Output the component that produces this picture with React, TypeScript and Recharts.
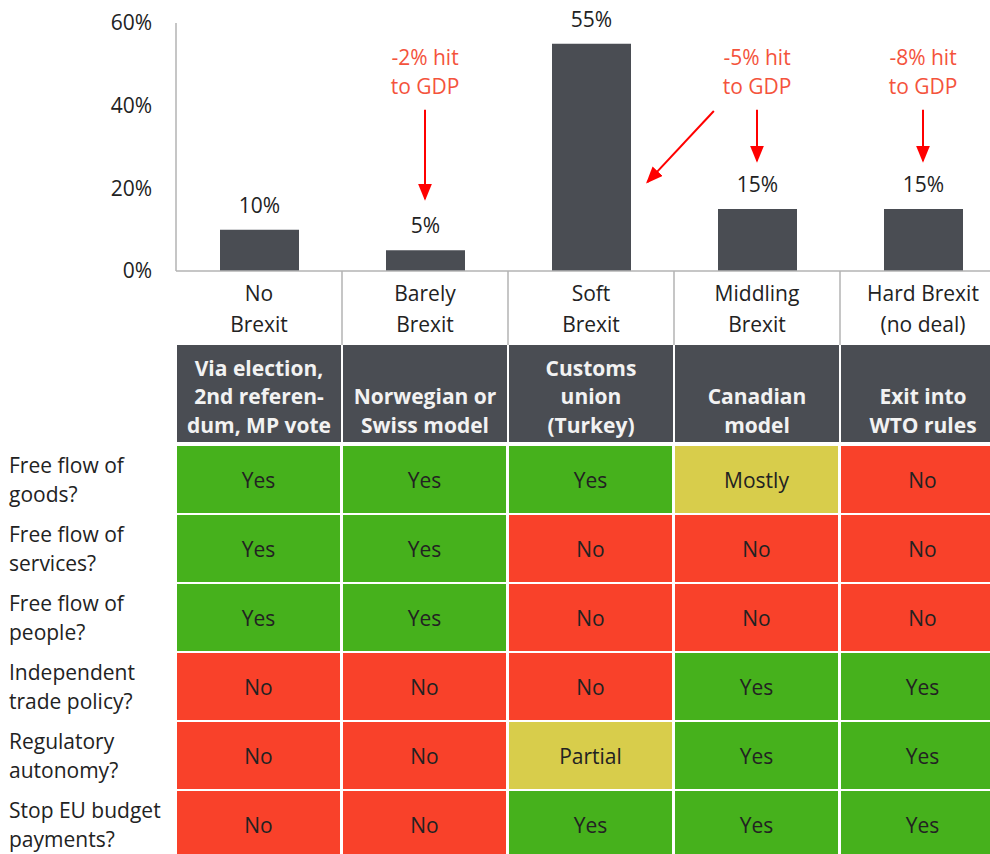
import {
  Bar,
  BarChart,
  LabelList,
  ReferenceDot,
  ReferenceLine,
  XAxis,
  YAxis,
} from 'recharts'

const FONT = '"Open Sans", "Noto Sans", sans-serif'
const FS = 21
const BAR = '#4a4d53'
const GREEN = '#46b11c'
const RED = '#f9412a'
const YELLOW = '#d8cd4b'
const AXIS = '#b3b3b3'
const NOTE = '#f4533c'
const ARROW = '#ff0000'
const TEXT = '#222222'

const COL = 166
const LEFT = 176
const CHART_H = 345
const HEADER_H = 97
const ROW_H = 67
const ROW_GAP = 2

// scenarios and how likely each one is (%)
const CATEGORIES = ['No Brexit', 'Barely Brexit', 'Soft Brexit', 'Middling Brexit', 'Hard Brexit (no deal)']
const CATEGORY_LINES = [
  ['No', 'Brexit'],
  ['Barely', 'Brexit'],
  ['Soft', 'Brexit'],
  ['Middling', 'Brexit'],
  ['Hard Brexit', '(no deal)'],
]
const LIKELIHOOD = [10, 5, 55, 15, 15]
const Y_TICKS = [0, 20, 40, 60]

// GDP hit notes (y in %), arrows: dx is a shift in band widths from the category centre
const NOTES = [
  { x: 'Barely Brexit', y: 51.5, lines: ['-2% hit', 'to GDP'] },
  { x: 'Middling Brexit', y: 51.5, lines: ['-5% hit', 'to GDP'] },
  { x: 'Hard Brexit (no deal)', y: 51.5, lines: ['-8% hit', 'to GDP'] },
]
const ARROWS = [
  { x1: 'Barely Brexit', dx1: 0, y1: 39, x2: 'Barely Brexit', dx2: 0, y2: 17.5 },
  { x1: 'Middling Brexit', dx1: -0.26, y1: 38.7, x2: 'Soft Brexit', dx2: 0.34, y2: 21.5 },
  { x1: 'Middling Brexit', dx1: 0, y1: 39, x2: 'Middling Brexit', dx2: 0, y2: 26.7 },
  { x1: 'Hard Brexit (no deal)', dx1: 0, y1: 39, x2: 'Hard Brexit (no deal)', dx2: 0, y2: 26.7 },
]

const MODELS = [
  ['Via election,', '2nd referen-', 'dum, MP vote'],
  ['Norwegian or', 'Swiss model'],
  ['Customs', 'union', '(Turkey)'],
  ['Canadian', 'model'],
  ['Exit into', 'WTO rules'],
]
const QUESTIONS = [
  ['Free flow of', 'goods?'],
  ['Free flow of', 'services?'],
  ['Free flow of', 'people?'],
  ['Independent', 'trade policy?'],
  ['Regulatory', 'autonomy?'],
  ['Stop EU budget', 'payments?'],
]
const ANSWERS = [
  ['Yes', 'Yes', 'Yes', 'Mostly', 'No'],
  ['Yes', 'Yes', 'No', 'No', 'No'],
  ['Yes', 'Yes', 'No', 'No', 'No'],
  ['No', 'No', 'No', 'Yes', 'Yes'],
  ['No', 'No', 'Partial', 'Yes', 'Yes'],
  ['No', 'No', 'Yes', 'Yes', 'Yes'],
]

const data = CATEGORIES.map((name, i) => ({ name, value: LIKELIHOOD[i] }))

const answerColor = (a: string) => (a === 'Yes' ? GREEN : a === 'No' ? RED : YELLOW)

function CategoryTick({ x, y, index }: any) {
  const lines = CATEGORY_LINES[index] ?? []
  return (
    <g>
      {index > 0 && (
        <line x1={x - COL / 2} x2={x - COL / 2} y1={y} y2={y + 74} stroke={AXIS} strokeWidth={1.5} />
      )}
      <text x={x} y={y} textAnchor="middle" fontSize={FS} fill={TEXT} fontFamily={FONT}>
        {lines.map((l, i) => (
          <tspan key={l} x={x} dy={i === 0 ? 30 : 31}>
            {l}
          </tspan>
        ))}
      </text>
    </g>
  )
}

function Note({ cx, cy, lines }: any) {
  return (
    <text x={cx} y={cy} textAnchor="middle" fontSize={FS} fill={NOTE} fontFamily={FONT}>
      {lines.map((l: string, i: number) => (
        <tspan key={l} x={cx} dy={i === 0 ? 7 : 29}>
          {l}
        </tspan>
      ))}
    </text>
  )
}

const arrowShape = (dx1: number, dx2: number) => (p: any) => (
  <line
    x1={p.x1 + dx1 * COL}
    y1={p.y1}
    x2={p.x2 + dx2 * COL}
    y2={p.y2}
    stroke={ARROW}
    strokeWidth={2}
    markerEnd="url(#arrowhead)"
  />
)

function Table() {
  return (
    <div style={{ position: 'absolute', left: 0, top: CHART_H, width: 990, fontFamily: FONT }}>
      {MODELS.map((m, i) => (
        <div
          key={i}
          style={{
            position: 'absolute',
            left: LEFT + 1 + i * COL,
            top: 0,
            width: COL - 2,
            height: HEADER_H,
            background: BAR,
            color: '#f2f2f2',
            fontWeight: 700,
            fontSize: FS,
            lineHeight: '28.5px',
            textAlign: 'center',
            display: 'flex',
            flexDirection: 'column',
            justifyContent: 'flex-end',
            paddingBottom: 3,
            boxSizing: 'border-box',
          }}
        >
          {m.map((l) => (
            <div key={l}>{l}</div>
          ))}
        </div>
      ))}
      {QUESTIONS.map((q, r) => {
        const top = HEADER_H + 4 + r * (ROW_H + ROW_GAP)
        return (
          <div key={r}>
            <div
              style={{
                position: 'absolute',
                left: 9,
                top,
                height: ROW_H,
                display: 'flex',
                flexDirection: 'column',
                justifyContent: 'center',
                fontSize: FS,
                lineHeight: '29px',
                color: TEXT,
                whiteSpace: 'nowrap',
              }}
            >
              {q.map((l) => (
                <div key={l}>{l}</div>
              ))}
            </div>
            {ANSWERS[r].map((a, c) => (
              <div
                key={c}
                style={{
                  position: 'absolute',
                  left: LEFT + 1 + c * COL,
                  top,
                  width: COL - 3,
                  height: ROW_H,
                  background: answerColor(a),
                  display: 'flex',
                  alignItems: 'center',
                  justifyContent: 'center',
                  fontSize: FS,
                  color: TEXT,
                }}
              >
                {a}
              </div>
            ))}
          </div>
        )
      })}
    </div>
  )
}

export default function App() {
  return (
    <div
      style={{
        position: 'absolute',
        left: 0,
        top: 0,
        width: 990,
        height: 854,
        overflow: 'hidden',
        background: '#fff',
      }}
    >
      <BarChart
        width={LEFT + COL * 5}
        height={CHART_H}
        data={data}
        margin={{ top: 23, right: 0, bottom: 0, left: 0 }}
        barSize={79}
      >
        <defs>
          <marker
            id="arrowhead"
            viewBox="0 0 17 14"
            refX={15}
            refY={7}
            markerWidth={17}
            markerHeight={14}
            markerUnits="userSpaceOnUse"
            orient="auto"
          >
            <path d="M0,0 L17,7 L0,14 z" fill={ARROW} />
          </marker>
        </defs>
        <XAxis
          dataKey="name"
          height={74}
          axisLine={{ stroke: AXIS, strokeWidth: 1.5 }}
          tickLine={false}
          tickSize={0}
          tickMargin={0}
          interval={0}
          tick={<CategoryTick />}
        />
        <YAxis
          width={LEFT}
          domain={[0, 60]}
          ticks={Y_TICKS}
          axisLine={{ stroke: AXIS, strokeWidth: 1.5 }}
          tickLine={false}
          tickSize={0}
          tickMargin={24}
          tickFormatter={(v) => `${v}%`}
          tick={{ fontSize: FS, fill: TEXT, fontFamily: FONT }}
        />
        <Bar dataKey="value" fill={BAR} isAnimationActive={false}>
          <LabelList
            dataKey="value"
            position="top"
            offset={17}
            formatter={(v: any) => `${v}%`}
            style={{ fontSize: FS, fill: TEXT, fontFamily: FONT }}
          />
        </Bar>
        {ARROWS.map((a, i) => (
          <ReferenceLine
            key={i}
            segment={[
              { x: a.x1, y: a.y1 },
              { x: a.x2, y: a.y2 },
            ]}
            ifOverflow="visible"
            shape={arrowShape(a.dx1, a.dx2)}
          />
        ))}
        {NOTES.map((n, i) => (
          <ReferenceDot
            key={i}
            x={n.x}
            y={n.y}
            r={1}
            ifOverflow="visible"
            shape={(p: any) => <Note {...p} lines={n.lines} />}
          />
        ))}
      </BarChart>
      <Table />
    </div>
  )
}
